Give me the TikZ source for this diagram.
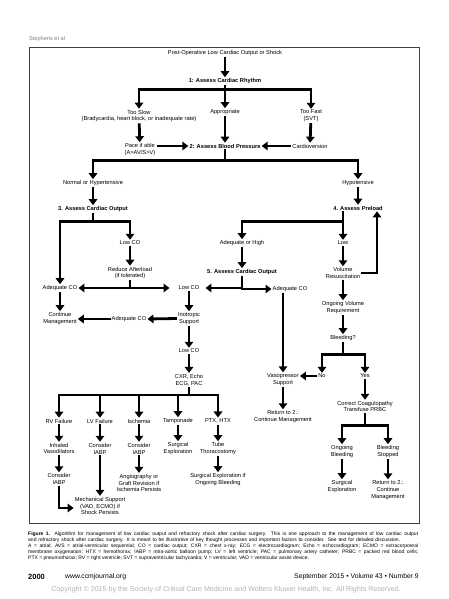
\documentclass[tikz,border=0pt]{standalone}
\usepackage{fontspec}
\setmainfont{Liberation Sans}
\usetikzlibrary{arrows.meta}

\begin{document}
\begin{tikzpicture}[x=1pt,y=-1pt,
  box/.style={align=center,inner sep=1pt,font=\fontsize{5.7}{6.9}\selectfont},
  hdr/.style={box,font=\fontsize{5.7}{6.9}\selectfont\bfseries},
  flow/.style={line width=2.8pt,line join=miter,-{Triangle[width=8.5pt,length=6pt]}},
  captext/.style={anchor=west,inner sep=0pt,font=\fontsize{5}{6}\selectfont},
  foot/.style={inner sep=0pt,font=\fontsize{6.8}{8}\selectfont}]
  \useasboundingbox (0,0) rectangle (448,599);
  % Running head and frame
  \node[anchor=west,inner sep=0pt,gray,font=\fontsize{5.6}{7}\selectfont] (head) at (29,39) {Stephens et al};
  \draw[line width=0.7pt,black!75] (29,47) rectangle (419,523);
  % Rhythm
  \node[box] (start) at (225,53) {Post-Operative Low Cardiac Output or Shock};
  \node[hdr] (rhythm) at (225,81) {1: Assess Cardiac Rhythm};
  \node[box] (slow) at (139,116) {Too Slow\\(Bradycardia, heart block, or inadequate rate)};
  \node[box] (appr) at (225,112) {Appropriate};
  \node[box] (fast) at (311,116) {Too Fast\\(SVT)};
  \node[box] (pace) at (140,149.5) {Pace if able\\(A>AV/S>V)};
  \node[hdr] (bp) at (225,146) {2: Assess Blood Pressure};
  \node[box] (cardio) at (310,146) {Cardioversion};
  % Blood pressure
  \node[box] (normal) at (93,183) {Normal or Hypertensive};
  \node[box] (hypo) at (358,183) {Hypotensive};
  \node[hdr] (co3) at (93,209) {3. Assess Cardiac Output};
  \node[hdr] (preload) at (358,208) {4. Assess Preload};
  \node[box] (lowA) at (130,243) {Low CO};
  \node[box] (adqhigh) at (242,243) {Adequate or High};
  \node[box] (low) at (343,243) {Low};
  \node[box] (afterload) at (130,273) {Reduce Afterload\\(if tolerated)};
  \node[hdr] (co5) at (242,272) {5. Assess Cardiac Output};
  \node[box] (volume) at (343,273) {Volume\\Resuscitation};
  % Cardiac output
  \node[box] (adqA) at (60,288) {Adequate CO};
  \node[box] (lowB) at (189,288) {Low CO};
  \node[box] (adqB) at (290,289) {Adequate CO};
  \node[box] (cont) at (60,318.5) {Continue\\Management};
  \node[box] (adqC) at (129,319) {Adequate CO};
  \node[box] (inotrop) at (189,318.5) {Inotropic\\Support};
  \node[box] (ongoing) at (343,307.5) {Ongoing Volume\\Requirement};
  \node[box] (bleed) at (343,338) {Bleeding?};
  \node[box] (lowC) at (189,351) {Low CO};
  \node[box] (no) at (322,376) {No};
  \node[box] (yes) at (365,376) {Yes};
  \node[box] (vaso) at (283,379.5) {Vasopressor\\Support};
  \node[box] (cxr) at (189,380) {CXR, Echo\\ECG, PAC};
  \node[box] (coag) at (365,406.5) {Correct Coagulopathy\\Transfuse PRBC};
  \node[box] (ret1) at (283,416.5) {Return to 2.:\\Continue Management};
  % Causes
  \node[box] (rv) at (59,421) {RV Failure};
  \node[box] (lv) at (100,421) {LV Failure};
  \node[box] (isch) at (139,421) {Ischemia};
  \node[box] (tamp) at (178,421) {Tamponade};
  \node[box] (ptx) at (218,421) {PTX, HTX};
  \node[box] (inhal) at (59,448.5) {Inhaled\\Vasodilators};
  \node[box] (iabpA) at (100,448.5) {Consider\\IABP};
  \node[box] (iabpB) at (139,448.5) {Consider\\IABP};
  \node[box] (surgA) at (178,448.5) {Surgical\\Exploration};
  \node[box] (tube) at (218,448.5) {Tube\\Thoracostomy};
  \node[box] (ongbl) at (342,451.5) {Ongoing\\Bleeding};
  \node[box] (stopped) at (388,451.5) {Bleeding\\Stopped};
  \node[box] (iabpC) at (59,479) {Consider\\IABP};
  \node[box] (angio) at (139,483) {Angiography or\\Graft Revision if\\Ischemia Persists};
  \node[box] (surgB) at (218,479.5) {Surgical Exploration if\\Ongoing Bleeding};
  \node[box] (surgC) at (342,486.5) {Surgical\\Exploration};
  \node[box] (ret2) at (388,490) {Return to 2.:\\Continue\\Management};
  \node[box] (mech) at (100,506) {Mechanical Support\\(VAD, ECMO) if\\Shock Persists};
  % Arrows
  \draw[flow] (start) -- (rhythm);
  \draw[flow] (rhythm.south) -- ++(0,5) -| (slow.north);
  \draw[flow] (rhythm.south) -- ++(0,5) -| (fast.north);
  \draw[flow] (rhythm) -- (appr);
  \draw[flow] (slow) -- (pace);
  \draw[flow] (appr) -- (bp);
  \draw[flow] (fast) -- (cardio);
  \draw[flow] (pace.east |- bp.west) -- (bp.west);
  \draw[flow] (cardio.west) -- (bp.east);
  \draw[flow] (bp.south) -- ++(0,11) -| (normal.north);
  \draw[flow] (bp.south) -- ++(0,11) -| (hypo.north);
  \draw[flow] (normal) -- (co3);
  \draw[flow] (hypo) -- (preload);
  \draw[flow] (co3.south) -- ++(0,9) -| (adqA.north);
  \draw[flow] (co3.south) -- ++(0,9) -| (lowA.north);
  \draw[flow] (preload.south -| low) -- (low.north);
  \draw[flow] (preload.south -| low) -- ++(0,10) -| (adqhigh.north);
  \draw[flow] (lowA) -- (afterload);
  \draw[flow] (adqhigh) -- (co5);
  \draw[flow] (low) -- (volume);
  \draw[flow] (volume.east) -| ([xshift=19pt]preload.south);
  \draw[flow] (afterload.south) |- (adqA.east);
  \draw[flow,shorten >=8pt] (afterload.south) |- (lowB.west);
  \draw[flow,shorten >=5pt] (co5.south) |- (lowB.east);
  \draw[flow] (co5.south) |- (adqB.west);
  \draw[flow] (adqA) -- (cont);
  \draw[flow] (lowB) -- (inotrop);
  \draw[flow] (inotrop.west) -- (adqC.east);
  \draw[flow] (adqC.west) -- (cont.east |- adqC.west);
  \draw[flow] (inotrop) -- (lowC);
  \draw[flow] (lowC) -- (cxr);
  \draw[flow] (volume) -- (ongoing);
  \draw[flow] (ongoing) -- (bleed);
  \draw[flow] (bleed.south) -- ++(0,13) -| (no.north);
  \draw[flow] (bleed.south) -- ++(0,13) -| (yes.north);
  \draw[flow] (no.west) -- (no.west -| vaso.east);
  \draw[flow] (vaso.north |- adqB.south) -- (vaso.north);
  \draw[flow] (vaso) -- (ret1);
  \draw[flow] (yes) -- (coag);
  \draw[flow] (coag.south) -- ++(0,12) -| (ongbl.north);
  \draw[flow] (coag.south) -- ++(0,12) -| (stopped.north);
  \draw[flow] (ongbl) -- (surgC);
  \draw[flow] (stopped) -- (ret2);
  \foreach \c in {rv,lv,isch,tamp,ptx}
    \draw[flow] (cxr.south) -- ++(0,8) -| (\c.north);
  \draw[flow] (rv) -- (inhal);
  \draw[flow] (lv) -- (iabpA);
  \draw[flow] (isch) -- (iabpB);
  \draw[flow] (tamp) -- (surgA);
  \draw[flow] (ptx) -- (tube);
  \draw[flow] (inhal) -- (iabpC);
  \draw[flow] (iabpA) -- (mech);
  \draw[flow] (iabpB) -- (angio);
  \draw[flow] (tube) -- (surgB);
  \draw[flow] (iabpC.south) |- ([yshift=-2pt]mech.west);
  % Caption
  \node[captext] (capA) at (28,534) {\makebox[390pt][s]{\textbf{Figure 1.} Algorithm for management of low cardiac output and refractory shock after cardiac surgery. This is one approach to the management of low cardiac output}};
  \node[captext] (capB) at (28,540) {\makebox[372pt][s]{and refractory shock after cardiac surgery. It is meant to be illustrative of key thought processes and important factors to consider. See text for detailed discussion.}};
  \node[captext] (capC) at (28,546) {\makebox[390pt][s]{A = atrial; AVS = atrial-ventricular sequential; CO = cardiac output; CXR = chest x-ray; ECG = electrocardiogram; Echo = echocardiogram; ECMO = extracorporeal}};
  \node[captext] (capD) at (28,552) {\makebox[390pt][s]{membrane oxygenation; HTX = hemothorax; IABP = intra-aortic balloon pump; LV = left ventricle; PAC = pulmonary artery catheter; PRBC = packed red blood cells;}};
  \node[captext] (capE) at (28,558) {PTX = pneumothorax; RV = right ventricle; SVT = supraventricular tachycardia; V = ventricular; VAD = ventricular assist device.};
  % Footer
  \node[foot,anchor=west,font=\fontsize{7.5}{8}\selectfont\bfseries] (pageno) at (28,577) {2000};
  \node[foot,anchor=west] (url) at (65,577) {www.ccmjournal.org};
  \node[foot,anchor=east] (issue) at (419,577) {September 2015 • Volume 43 • Number 9};
  \node[foot,gray!60,font=\fontsize{7.1}{8}\selectfont] (copy) at (226,590) {Copyright © 2015 by the Society of Critical Care Medicine and Wolters Kluwer Health, Inc. All Rights Reserved.};
\end{tikzpicture}
\end{document}
